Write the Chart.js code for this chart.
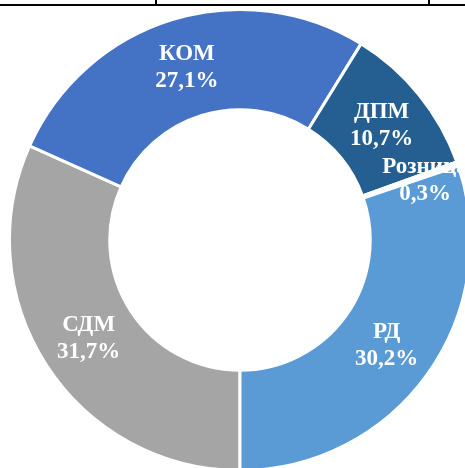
<!DOCTYPE html>
<html>
<head>
<meta charset="utf-8">
<script src="https://cdn.jsdelivr.net/npm/chart.js@4/dist/chart.umd.min.js"></script>
<style>
  html, body { margin: 0; padding: 0; background: #fff; width: 465px; height: 468px; overflow: hidden; position: relative; }
  #wrap { position: absolute; left: 8px; top: 8px; width: 464px; height: 464px; }
  .hline { position: absolute; left: 0; top: 4px; width: 465px; height: 2px; background: #000; }
  .vline { position: absolute; top: 0; width: 2px; height: 5px; background: #000; }
</style>
</head>
<body>
<div class="hline"></div>
<div class="vline" style="left:155px"></div>
<div class="vline" style="left:428px"></div>
<div id="wrap"><canvas id="c" width="464" height="464"></canvas></div>
<script>
const categories = ['СДМ', 'КОМ', 'ДПМ', 'Розница', 'РД'];
const shares = [31.7, 27.1, 10.7, 0.3, 30.2];
const sliceColors = ['#A5A5A5', '#4472C4', '#255E91', '#FFFFFF', '#5B9BD5'];

// label placement nudges (radial px, angular deg) per slice
const labelNudge = [[0, 0], [0, 0], [2, 0], [14, 1.5], [0, 0]];

const labelPlugin = {
  id: 'sliceLabels',
  afterDatasetsDraw(chart) {
    const ctx = chart.ctx;
    const meta = chart.getDatasetMeta(0);
    ctx.save();
    ctx.fillStyle = '#FFFFFF';
    ctx.font = 'bold 23px "Liberation Serif", "Times New Roman", serif';
    ctx.textAlign = 'center';
    ctx.textBaseline = 'middle';
    meta.data.forEach((arc, i) => {
      const p = arc.getProps(['x', 'y', 'startAngle', 'endAngle', 'innerRadius', 'outerRadius'], true);
      const a = (p.startAngle + p.endAngle) / 2 + labelNudge[i][1] * Math.PI / 180;
      const r = (p.innerRadius + p.outerRadius) / 2 + labelNudge[i][0];
      const x = p.x + r * Math.cos(a);
      const y = p.y + r * Math.sin(a);
      const val = shares[i].toFixed(1).replace('.', ',') + '%';
      ctx.fillText(categories[i], x, y - 13.5);
      ctx.fillText(val, x, y + 13.5);
    });
    ctx.restore();
  }
};

new Chart(document.getElementById('c'), {
  type: 'doughnut',
  data: {
    labels: categories,
    datasets: [{
      data: shares,
      backgroundColor: sliceColors,
      borderColor: '#FFFFFF',
      borderWidth: 3,
      hoverOffset: 0
    }]
  },
  options: {
    responsive: false,
    animation: false,
    rotation: 180,
    cutout: '56.5%',
    layout: { padding: 0 },
    plugins: {
      legend: { display: false },
      tooltip: { enabled: false }
    }
  },
  plugins: [labelPlugin]
});
</script>
</body>
</html>
